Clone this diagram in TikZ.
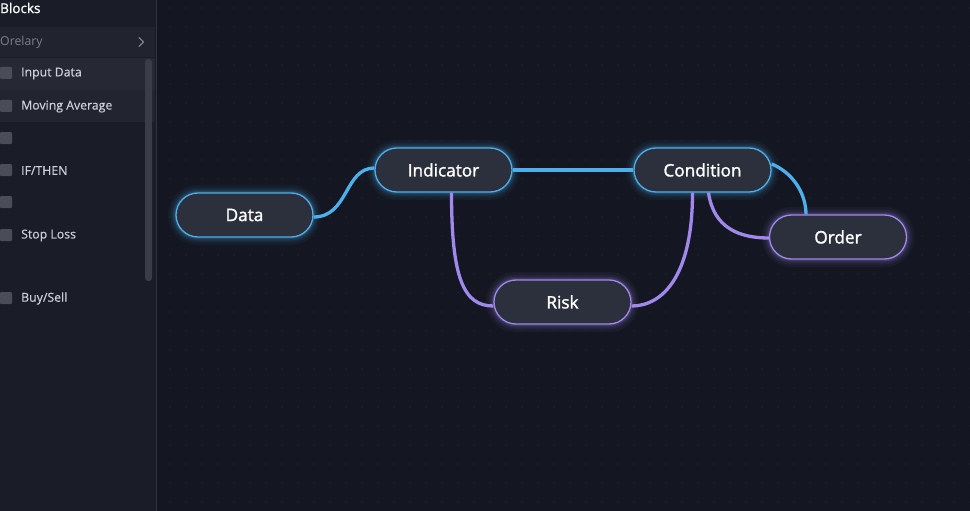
\documentclass[tikz,border=0pt]{standalone}
\usepackage{fontspec}
\setmainfont{Open Sans}
\usetikzlibrary{calc}
\definecolor{canvasbg}{HTML}{141722}
\definecolor{sidebg}{HTML}{1A1D27}
\definecolor{rowA}{HTML}{21242E}
\definecolor{rowB}{HTML}{262934}
\definecolor{rowC}{HTML}{22252F}
\definecolor{chk}{HTML}{4A4D57}
\definecolor{sidetxt}{HTML}{CDD0D8}
\definecolor{dimtxt}{HTML}{7D808A}
\definecolor{nodefill}{HTML}{2C303C}
\definecolor{cblue}{HTML}{4DB0EA}
\definecolor{cpurple}{HTML}{A088EC}
\definecolor{dotc}{HTML}{1D2130}
\definecolor{scrollc}{HTML}{3A3D48}
\tikzset{
  pill/.style={rounded corners=22pt, minimum width=137pt, minimum height=44pt, fill=nodefill, line width=1.3pt, text=white, font=\fontsize{17.2}{19}\selectfont\addfontfeature{FakeBold=1.6}},
  bluepill/.style={pill, draw=cblue},
  purppill/.style={pill, draw=cpurple},
  sideitem/.style={anchor=west, text=sidetxt, font=\fontsize{12.3}{14}\selectfont\addfontfeature{FakeBold=0.4}, inner sep=0pt},
  chkbox/.style={fill=chk, rounded corners=1pt, minimum size=12pt, inner sep=0pt},
  bwire/.style={draw=cblue, line width=3.3pt},
  pwire/.style={draw=cpurple, line width=3.3pt},
}
\newcommand{\glowpill}[2]{%
  \foreach \w/\o in {16/0.05, 11/0.07, 7/0.1, 4/0.14}{
    \draw[#2, line width=\w pt, opacity=\o, rounded corners=22pt] ($(#1)+(-68.5,-22)$) rectangle ($(#1)+(68.5,22)$);
  }
}
\begin{document}
\begin{tikzpicture}[x=1pt,y=-1pt]
\useasboundingbox (0,0) rectangle (970,511);
\fill[canvasbg] (0,0) rectangle (970,511);
% dots
\foreach \i in {0,...,50}{\foreach \j in {0,...,26}{
  \fill[dotc] ({170+\i*16},{8+\j*19}) circle (0.8pt);
}}
% sidebar
\fill[sidebg] (0,0) rectangle (156,511);
\draw[color=scrollc!70!sidebg, line width=1pt] (156.5,0) -- (156.5,511);
\fill[rowA] (0,27) rectangle (155,57);
\fill[rowB] (0,58) rectangle (155,90);
\fill[rowC] (0,90) rectangle (155,122);
\node[anchor=west, text=white, font=\fontsize{13.5}{15}\selectfont\addfontfeature{FakeBold=1}, inner sep=0pt] (blocks) at (0,8) {Blocks};
\node[anchor=west, text=dimtxt, font=\fontsize{12.3}{14}\selectfont, inner sep=0pt] (orelary) at (0,42) {Orelary};
\draw[dimtxt, line width=1.3pt, line cap=round, line join=round] (139,37.5) -- (143.5,42) -- (139,46.5);
\fill[scrollc, rounded corners=3pt] (145,59) rectangle (152,281);
\foreach \y/\n in {73/c1,106/c2,138/c3,170/c4,202/c5,235/c6,298/c7}{
  \node[chkbox] (\n) at (6,\y) {};
}
\node[sideitem] (t1) at (21,73.5) {Input Data};
\node[sideitem] (t2) at (21,106.5) {Moving Average};
\node[sideitem] (t4) at (21,170.5) {IF/THEN};
\node[sideitem] (t6) at (21,235.5) {Stop Loss};
\node[sideitem] (t7) at (21,298.5) {Buy/Sell};
% glow
\coordinate (gdata) at (244.5,215);
\coordinate (gind) at (443.5,170);
\coordinate (gcond) at (702.5,170);
\coordinate (gord) at (838,237);
\coordinate (grisk) at (562.5,302);
\glowpill{gdata}{cblue}
\glowpill{gind}{cblue}
\glowpill{gcond}{cblue}
\glowpill{gord}{cpurple}
\glowpill{grisk}{cpurple}
% nodes
\node[bluepill] (data) at (gdata) {Data};
\node[bluepill] (ind) at (gind) {Indicator};
\node[bluepill] (cond) at (gcond) {Condition};
\node[purppill] (ord) at (gord) {Order};
\node[purppill] (risk) at (grisk) {Risk};
% wires
\draw[bwire] ([yshift=-2]data.east) .. controls +(35,0) and +(-30,0) .. ([yshift=2]ind.west);
\draw[bwire] (ind.east) -- (cond.west);
\draw[pwire] ([xshift=8]ind.south) .. controls +(0,85) and +(-30,0) .. ([yshift=-4]risk.west);
\draw[pwire] ([xshift=-10]cond.south) .. controls +(0,85) and +(30,0) .. ([yshift=-4]risk.east);
\draw[pwire] ([xshift=6]cond.south) .. controls +(5,35) and +(-30,0) .. ([yshift=-1]ord.west);
\draw[bwire] ([yshift=6]cond.east) .. controls +(20,8) and +(0,-22) .. ([xshift=-32]ord.north);
\end{tikzpicture}
\end{document}
